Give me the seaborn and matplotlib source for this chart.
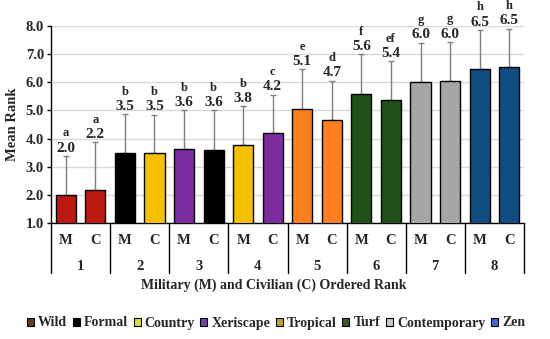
import matplotlib
matplotlib.use("Agg")
import matplotlib.pyplot as plt
import matplotlib.transforms as mtransforms
from matplotlib.patches import Patch
import seaborn as sns
import pandas as pd
import numpy as np

# ---- data ----
ranks = ["1", "1", "2", "2", "3", "3", "4", "4", "5", "5", "6", "6", "7", "7", "8", "8"]
groups = ["M", "C"] * 8
gardens = ["Wild", "Wild", "Formal", "Country", "Xeriscape", "Formal", "Country", "Xeriscape",
           "Tropical", "Tropical", "Turf", "Turf", "Contemporary", "Contemporary", "Zen", "Zen"]
means = [2.0, 2.17, 3.5, 3.48, 3.62, 3.6, 3.76, 4.19, 5.06, 4.67, 5.57, 5.38, 6.02, 6.04, 6.46, 6.53]
sds = [1.38, 1.7, 1.36, 1.37, 1.38, 1.4, 1.39, 1.37, 1.4, 1.39, 1.42, 1.37, 1.38, 1.39, 1.4, 1.37]
letters = ["a", "a", "b", "b", "b", "b", "b", "c", "e", "d", "f", "ef", "g", "g", "h", "h"]
legend_names = ["Wild", "Formal", "Country", "Xeriscape", "Tropical", "Turf", "Contemporary", "Zen"]

bar_colors = {"Wild": "#BC1A10", "Formal": "#000000", "Country": "#F5C000", "Xeriscape": "#7B2DA0",
              "Tropical": "#FF7F1E", "Turf": "#1E5218", "Contemporary": "#A6A6A6", "Zen": "#0E4C82"}
legend_colors = {"Wild": "#6B3A14", "Formal": "#000000", "Country": "#E0E030", "Xeriscape": "#7A3FB0",
                 "Tropical": "#C8A028", "Turf": "#3A5A2A", "Contemporary": "#C8C8C8", "Zen": "#3A6AC8"}

df = pd.DataFrame({"bar": [f"{r}{g}" for r, g in zip(ranks, groups)],
                   "mean": means, "garden": gardens})

sns.set_theme(style="white")
plt.rcParams["font.family"] = ["Liberation Serif", "DejaVu Serif"]
plt.rcParams["font.weight"] = "bold"

fig = plt.figure(figsize=(5.5, 3.39), dpi=100)
ax = fig.add_axes([51 / 550, 1 - 223 / 339, 473 / 550, 197 / 339])

palette = [bar_colors[g] for g in gardens]
sns.barplot(data=df, x="bar", y="mean", hue="bar", palette=palette, legend=False, saturation=1,
            width=0.68, edgecolor="black", linewidth=1.0, ax=ax, zorder=3, errorbar=None)

pos = np.arange(len(means))
ax.errorbar(pos, means, yerr=[np.zeros(len(sds)), sds], fmt="none", ecolor="#7F7F7F",
            elinewidth=1.0, capsize=2.5, capthick=1.0, zorder=2)

for x, m, s, lt in zip(pos, means, sds, letters):
    ax.annotate(f"{m:.1f}", (x, m + s), xytext=(0, 1.0), textcoords="offset points",
                ha="center", va="bottom", fontsize=11, fontweight="bold", annotation_clip=False)
    ax.annotate(lt, (x, m + s), xytext=(0, 12.0), textcoords="offset points",
                ha="center", va="bottom", fontsize=9, fontweight="bold", annotation_clip=False)

ax.set_ylim(1, 8)
ax.set_xlim(-0.5, 15.5)
ax.set_yticks(np.arange(1, 9))
ax.set_yticklabels([f"{v:.1f}" for v in np.arange(1, 9)], fontsize=10.5, fontweight="bold")
ax.yaxis.grid(True, color="#D9D9D9", linewidth=1.0, zorder=0)
ax.set_axisbelow(True)
ax.tick_params(axis="y", left=True, length=3, width=1, color="black", pad=2)
ax.set_xticks([])
ax.set_xlabel("")
ax.set_ylabel("Mean Rank", fontsize=10.5, fontweight="bold", labelpad=5)
for side in ["top", "right"]:
    ax.spines[side].set_visible(False)
ax.spines["left"].set_color("black")
ax.spines["bottom"].set_color("black")
ax.spines["left"].set_linewidth(1.0)
ax.spines["bottom"].set_linewidth(1.0)

trans = mtransforms.blended_transform_factory(ax.transData, ax.transAxes)
for b in np.arange(-0.5, 16, 2):
    ax.plot([b, b], [0, -50 / 197], transform=trans, clip_on=False, color="black", lw=1.0)
for x, g in zip(pos, groups):
    ax.text(x, -17 / 197, g, transform=trans, ha="center", va="center", fontsize=10.5, fontweight="bold")
for i in range(8):
    ax.text(2 * i + 0.5, -43 / 197, ranks[2 * i], transform=trans, ha="center", va="center",
            fontsize=10.5, fontweight="bold")

fig.text(274 / 550, 1 - 285 / 339, "Military (M) and Civilian (C) Ordered Rank",
         ha="center", va="center", fontsize=10, fontweight="bold")

handles = [Patch(facecolor=legend_colors[n], edgecolor="black", linewidth=0.8, label=n) for n in legend_names]
fig.legend(handles=handles, loc="center", bbox_to_anchor=(276 / 550, 1 - 323 / 339), ncol=8,
           frameon=False, handlelength=0.5, handleheight=0.5, handletextpad=0.3,
           columnspacing=0.4, borderaxespad=0, borderpad=0,
           prop={"family": ["Liberation Serif"], "weight": "bold", "size": 10})

fig.savefig("out.png", dpi=100)
